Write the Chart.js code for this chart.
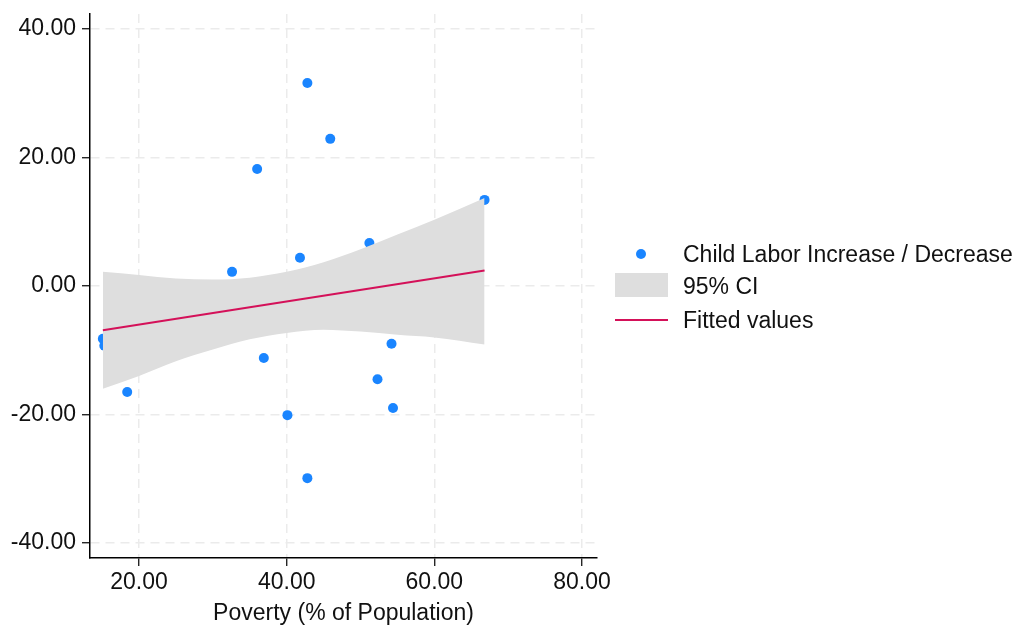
<!DOCTYPE html>
<html>
<head>
<meta charset="utf-8">
<script src="https://cdn.jsdelivr.net/npm/chart.js@4/dist/chart.umd.min.js"></script>
<style>
  html, body { margin: 0; padding: 0; background: #fff; }
  #wrap { position: relative; width: 1020px; height: 631px; }
  #chart { position: absolute; left: 0; top: 0; }
  .legend { position: absolute; left: 0; top: 0; font-family: "Liberation Sans", Arial, Helvetica, sans-serif; font-size: 23px; color: #111; }
  .item { position: absolute; left: 615px; height: 30px; line-height: 30px; white-space: nowrap; }
  .item span { position: absolute; left: 68px; top: 0; }
  .swatch { position: absolute; left: 0; }
</style>
</head>
<body>
<div id="wrap">
  <canvas id="chart" width="1020" height="631"></canvas>
  <div class="legend">
    <div class="item" style="top:239px;">
      <div class="swatch" style="left:21px;top:10px;width:10px;height:10px;border-radius:50%;background:#1a85ff;"></div>
      <span>Child Labor Increase / Decrease</span>
    </div>
    <div class="item" style="top:271px;">
      <div class="swatch" style="top:2px;width:53px;height:24px;background:#dedede;"></div>
      <span>95% CI</span>
    </div>
    <div class="item" style="top:305px;">
      <div class="swatch" style="top:14px;width:53px;height:2px;background:#d41159;"></div>
      <span>Fitted values</span>
    </div>
  </div>
</div>
<script>
// Data
const povertyX = [42.8, 45.9, 36.0, 66.8, 51.2, 41.8, 32.6, 15.1, 15.3, 36.9, 54.2, 52.3, 18.4, 54.4, 40.1, 42.8];
const laborY   = [31.6, 22.9, 18.2, 13.4, 6.7, 4.4, 2.2, -8.2, -9.3, -11.2, -9.0, -14.5, -16.5, -19.0, -20.1, -29.9];

const ciX     = [15.1, 20, 25, 30, 35, 40, 45, 50, 55, 60, 66.8];
const ciUpper = [2.2, 1.7, 1.15, 1.0, 1.3, 2.2, 3.7, 5.7, 8.0, 10.3, 13.7];
const ciLower = [-16.0, -14.0, -11.7, -9.9, -8.3, -7.3, -6.8, -7.1, -7.6, -8.0, -9.1];

const fitX = [15.1, 66.8];
const fitY = [-6.9, 2.4];

const xTicks = [20, 40, 60, 80];
const yTicks = [-40, -20, 0, 20, 40];

const FONT = { family: '"Liberation Sans", Arial, Helvetica, sans-serif', size: 23 };
const GRID = '#ebebeb';

const toPoints = (xs, ys) => xs.map((x, i) => ({ x, y: ys[i] }));

new Chart(document.getElementById('chart'), {
  type: 'scatter',
  data: {
    datasets: [
      {
        label: 'Child Labor Increase / Decrease',
        data: toPoints(povertyX, laborY),
        backgroundColor: '#1a85ff',
        borderWidth: 0,
        pointRadius: 5,
        order: 4
      },
      {
        label: '95% CI upper',
        type: 'line',
        data: toPoints(ciX, ciUpper),
        borderWidth: 0,
        borderColor: 'rgba(0,0,0,0)',
        backgroundColor: '#dedede',
        pointRadius: 0,
        cubicInterpolationMode: 'monotone',
        fill: '+1',
        order: 2
      },
      {
        label: '95% CI lower',
        type: 'line',
        data: toPoints(ciX, ciLower),
        borderWidth: 0,
        borderColor: 'rgba(0,0,0,0)',
        pointRadius: 0,
        cubicInterpolationMode: 'monotone',
        fill: false,
        order: 3
      },
      {
        label: 'Fitted values',
        type: 'line',
        data: toPoints(fitX, fitY),
        borderColor: '#d41159',
        borderWidth: 2,
        pointRadius: 0,
        fill: false,
        order: 1
      }
    ]
  },
  options: {
    responsive: false,
    animation: false,
    layout: { padding: { left: 0, top: 14, right: 423, bottom: 0 } },
    plugins: { legend: { display: false }, tooltip: { enabled: false } },
    scales: {
      x: {
        type: 'linear',
        min: 13.36,
        max: 82.03,
        afterFit: s => { s.height = 73; s.paddingLeft = 0; s.paddingRight = 0; },
        afterBuildTicks: s => { s.ticks = xTicks.map(v => ({ value: v })); },
        grid: { color: GRID, lineWidth: 1.5, tickColor: '#000', tickLength: 8, tickWidth: 1.2, tickBorderDash: [] },
        border: { color: '#000', width: 1.5, dash: [9, 6] },
        ticks: { color: '#111', font: FONT, padding: 3, maxRotation: 0, callback: v => v.toFixed(2) },
        title: { display: true, text: 'Poverty (% of Population)', color: '#111', font: FONT, padding: { top: 2, bottom: 4 } }
      },
      y: {
        type: 'linear',
        min: -42.33,
        max: 42.33,
        afterFit: s => { s.width = 90; s.paddingTop = 0; s.paddingBottom = 0; },
        afterBuildTicks: s => { s.ticks = yTicks.map(v => ({ value: v })); },
        grid: { color: GRID, lineWidth: 1.5, tickColor: '#000', tickLength: 8, tickWidth: 1.2, tickBorderDash: [] },
        border: { color: '#000', width: 1.5, dash: [9, 6] },
        ticks: { color: '#111', font: FONT, padding: 6, callback: v => v.toFixed(2) }
      }
    }
  }
});
</script>
</body>
</html>
